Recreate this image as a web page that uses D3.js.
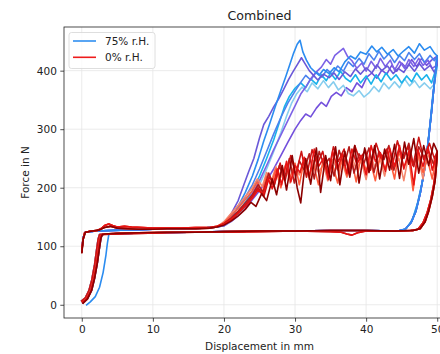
<!DOCTYPE html>
<html>
<head>
<meta charset="utf-8">
<script src="https://cdn.jsdelivr.net/npm/d3@7"></script>
<style>
  body { margin: 0; background: #fff; }
  text { font-family: "DejaVu Sans", sans-serif; fill: #222; }
</style>
</head>
<body>
<svg id="chart" width="440" height="354"></svg>
<script>
// axis ticks and legend labels
const xTicks = [0, 10, 20, 30, 40, 50];
const yTicks = [0, 100, 200, 300, 400];
const groupLabels = ["75% r.H.", "0% r.H."];

// shared segments of the loops [displacement mm, force N]
const rampRedA = [[0,4],[0.6,9],[1.2,22],[1.6,40],[2,65],[2.3,92],[2.5,110],[2.7,119],[3.2,121]];
const rampRedB = [[0.1,2],[0.8,10],[1.4,25],[1.8,45],[2.2,72],[2.5,98],[2.7,114],[2.9,120],[3.3,121]];
const rampRedC = [[-0.1,6],[0.5,12],[1,24],[1.4,42],[1.8,68],[2.1,95],[2.3,112],[2.5,120],[3,121]];
const rampBlueLate = [[0.6,-1],[1.2,5],[1.9,14],[2.5,30],[3,55],[3.4,85],[3.6,105],[3.8,120],[4.2,121]];

const leftRedA = [[0,90],[0.15,110],[0.4,123],[1.2,126],[2.2,127],[2.8,131],[3.3,136],[3.8,138],[4.4,135],[5,133],[6,134],[7,133],[8.5,132],[10,131],[12,131],[14,131],[16,132],[18,132],[19,134]];
const leftRedB = [[0,88],[0.2,112],[0.5,124],[1.5,126],[2.5,128],[3.2,132],[4,134],[5,131],[6.5,130],[8,129],[10,129],[12,130],[14,130],[16,130],[18,131],[19,133]];
const leftBlue = [[0,92],[0.2,115],[0.5,124],[2,126],[4,127],[7,128],[10,129],[14,130],[17,131],[19,133]];

const lowerRed = [[3.2,121],[5,122],[8,123],[12,124],[16,124],[20,125],[25,126],[30,126],[35,127],[40,127],[44,126],[46.3,127]];
const lowerRedDip = [[3,120],[5,121],[8,122],[12,123],[16,124],[20,124],[25,125],[30,126],[35,125],[36.5,124],[37.3,121],[38,119],[38.8,123],[40,126],[44,126],[46.6,127]];
const lowerBlue = [[3.8,121],[6,122],[10,123],[15,124],[20,125],[25,126],[30,126],[35,127],[40,127],[44.5,126]];

const endRedA = [[46.3,127],[47.3,129],[48,140],[48.6,158],[49.1,180],[49.5,205],[49.8,232],[50,258]];
const endRedB = [[46.6,127],[47.6,130],[48.3,142],[48.8,160],[49.3,185],[49.7,212],[49.9,240],[50,262]];
const endBlueA = [[44.5,126],[45.5,129],[46.3,140],[47,160],[47.6,190],[48.2,230],[48.7,275],[49.2,330],[49.6,380],[49.9,415],[50,425]];
const endBlueB = [[44.5,126],[45.6,130],[46.5,145],[47.2,172],[47.9,210],[48.5,255],[49,310],[49.4,360],[49.8,395],[50,410]];

// upper (sliding) segments, 75% r.H.
const upB1 = [[20,137],[21,148],[22,168],[23,192],[24,220],[24.8,248],[25.6,280],[26.4,308],[27.2,338],[28,366],[28.7,390],[29.3,412],[29.8,430],[30.3,445],[30.7,452],[31.1,432],[31.6,418],[32.2,405],[32.8,398],[33.4,392],[34,402],[34.8,395],[35.5,405],[36.2,398],[37,415],[37.8,425],[38.5,420],[39.2,432],[40,428],[40.8,442],[41.5,432],[42.2,440],[43,428],[43.8,436],[44.5,425],[45.3,434],[46,441],[46.8,430],[47.5,446],[48.2,435],[49,441],[49.6,430],[50,425]];
const upB2 = [[20,139],[21,155],[22,178],[22.8,205],[23.5,228],[24.2,250],[25,285],[25.6,308],[26.3,322],[27,338],[27.7,352],[28.4,368],[29.1,385],[29.7,398],[30.3,410],[30.9,422],[31.4,412],[32,400],[32.6,392],[33.2,384],[34,394],[34.8,388],[35.5,396],[36.2,385],[37,398],[37.8,390],[38.5,403],[39.2,394],[40,405],[40.8,396],[41.5,410],[42.2,400],[43,408],[43.8,395],[44.5,404],[45.3,397],[46,411],[46.8,399],[47.5,412],[48.2,401],[49,409],[49.6,397],[50,410]];
const upB3 = [[20,135],[21,144],[22,157],[23,172],[24,190],[25,212],[26,238],[27,265],[28,290],[29,315],[30,340],[30.8,360],[31.5,372],[32.2,386],[33,398],[33.7,406],[34.4,419],[35,411],[35.6,426],[36.2,432],[36.8,438],[37.4,424],[38,417],[38.7,404],[39.4,413],[40,399],[40.7,416],[41.4,404],[42,421],[42.7,407],[43.4,418],[44,401],[44.7,416],[45.4,404],[46,419],[46.7,407],[47.4,421],[48,409],[48.7,418],[49.3,404],[50,410]];
const upB4 = [[20,137],[21,150],[22,166],[23,184],[24,205],[25,232],[26,262],[27,292],[28,320],[29,345],[30,365],[30.8,380],[31.5,392],[32.2,384],[33,398],[33.8,389],[34.5,402],[35.2,394],[36,408],[36.8,399],[37.5,415],[38.2,407],[39,421],[39.7,411],[40.4,429],[41.1,418],[41.8,433],[42.5,420],[43.2,429],[44,414],[44.7,426],[45.4,417],[46,431],[46.8,419],[47.5,429],[48.2,414],[49,426],[49.6,417],[50,425]];
const upB5 = [[20,136],[21,146],[22,159],[23,175],[24,195],[25,220],[26,250],[27,282],[27.8,312],[28.5,338],[29.2,356],[30,370],[30.8,379],[31.5,371],[32.2,386],[33,377],[33.7,393],[34.4,383],[35,396],[35.7,385],[36.4,399],[37.1,387],[37.8,381],[38.5,393],[39.2,379],[40,391],[40.7,377],[41.4,393],[42.1,381],[42.8,396],[43.5,384],[44.2,393],[45,379],[45.7,391],[46.4,381],[47.1,396],[47.8,384],[48.5,393],[49.2,379],[50,410]];
const upB6 = [[20,135],[21,143],[22,154],[23,168],[24,185],[25,205],[26,232],[27,262],[28,294],[28.8,322],[29.5,344],[30.2,360],[31,372],[31.7,364],[32.4,379],[33.2,369],[34,383],[34.7,371],[35.4,381],[36.1,367],[36.8,375],[37.5,361],[38.2,357],[39,366],[39.7,355],[40.4,362],[41.1,373],[41.8,364],[42.5,379],[43.2,369],[44,381],[44.7,371],[45.4,386],[46.1,374],[46.8,383],[47.5,371],[48.2,379],[49,369],[49.6,377],[50,410]];
const upB7 = [[20,135],[21,142],[22,152],[23,165],[24,180],[25,195],[26,212],[27,232],[28,255],[29,278],[30,300],[30.8,315],[31.5,326],[32.2,321],[33,336],[33.7,346],[34.4,339],[35.1,356],[35.8,363],[36.5,357],[37.2,371],[38,364],[38.7,379],[39.4,371],[40.1,389],[40.8,396],[41.5,387],[42.2,401],[42.9,394],[43.6,409],[44.3,399],[45,413],[45.7,404],[46.4,419],[47.1,407],[47.8,421],[48.5,409],[49.2,418],[50,425]];

// upper (sliding) segments, 0% r.H.
const upR1 = [[20,138],[21,145],[22,156],[23,168],[24,182],[24.8,196],[25.5,188],[26.2,215],[26.8,198],[27.5,232],[28.1,205],[28.8,245],[29.4,210],[30,238],[30.7,226],[31.3,252],[32,218],[32.7,266],[33.3,236],[34,250],[34.7,214],[35.3,262],[36,232],[36.7,258],[37.3,224],[38,266],[38.7,240],[39.3,255],[40,222],[40.7,272],[41.3,245],[42,260],[42.7,228],[43.3,268],[44,236],[44.7,272],[45.3,232],[46,262],[46.7,205],[47.3,265],[48,236],[48.7,270],[49.3,230],[50,258]];
const upR2 = [[20,136],[21,143],[22,152],[23,163],[23.8,175],[24.5,168],[25.3,190],[26,178],[26.8,215],[27.4,188],[28.2,238],[28.8,196],[29.6,255],[30.3,200],[30.8,174],[31.5,250],[32.2,206],[33,268],[33.6,192],[34.3,255],[35,212],[35.7,270],[36.3,205],[37,262],[37.7,218],[38.4,272],[39,208],[39.8,268],[40.4,226],[41.2,272],[41.9,215],[42.6,266],[43.3,230],[44,274],[44.7,216],[45.4,278],[46,240],[46.7,284],[47.4,225],[48.1,272],[48.8,238],[49.5,276],[50,262]];
const upR3 = [[20,139],[21,148],[22,160],[23,174],[24,188],[24.8,205],[25.5,192],[26.3,225],[27,202],[27.8,238],[28.5,214],[29.2,250],[29.9,208],[30.6,246],[31.3,230],[32,258],[32.7,215],[33.4,262],[34.1,238],[34.8,250],[35.5,220],[36.2,264],[36.9,238],[37.6,270],[38.3,225],[39,258],[39.7,242],[40.4,268],[41.1,226],[41.8,262],[42.5,248],[43.2,272],[43.9,230],[44.6,265],[45.3,250],[46,276],[46.7,236],[47.4,270],[48.1,252],[48.8,262],[49.5,240],[50,258]];
const upR4 = [[20,140],[21,152],[22,165],[23,180],[24,195],[24.7,210],[25.4,192],[26,220],[26.7,206],[27.3,232],[28,200],[28.7,238],[29.3,218],[30,242],[30.6,205],[31.3,248],[32,222],[32.6,240],[33.3,205],[34,250],[34.6,228],[35.3,238],[36,208],[36.6,252],[37.3,220],[38,246],[38.6,210],[39.3,255],[40,230],[40.6,245],[41.3,212],[42,258],[42.6,232],[43.3,250],[44,215],[44.6,262],[45.3,236],[46,252],[46.6,195],[47.3,258],[48,226],[48.6,250],[49.3,215],[50,262]];
const upR5 = [[20,142],[21,156],[22,170],[23,185],[24,200],[24.7,215],[25.4,202],[26,226],[26.7,212],[27.3,236],[28,218],[28.7,240],[29.3,208],[30,236],[30.6,222],[31.3,244],[32,214],[32.6,246],[33.3,226],[34,240],[34.6,212],[35.3,248],[36,230],[36.6,244],[37.3,218],[38,252],[38.6,232],[39.3,246],[40,214],[40.6,254],[41.3,234],[42,248],[42.6,220],[43.3,256],[44,236],[44.6,250],[45.3,212],[46,258],[46.6,238],[47.3,254],[48,215],[48.6,258],[49.3,242],[50,258]];
const upR6 = [[20,138],[21,147],[22,158],[23,170],[24,185],[24.8,200],[25.6,185],[26.4,220],[27.1,205],[27.9,242],[28.6,212],[29.4,255],[30.1,222],[30.9,262],[31.6,218],[32.4,265],[33.1,240],[33.9,262],[34.6,222],[35.4,270],[36.1,245],[36.9,266],[37.6,226],[38.4,272],[39.1,248],[39.9,264],[40.6,230],[41.4,276],[42.1,250],[42.9,266],[43.6,232],[44.4,280],[45.1,252],[45.9,270],[46.6,238],[47.4,286],[48.1,248],[48.9,276],[49.6,250],[50,262]];

// which segments make each loop (left upper return, sliding, end rise, lower, ramp)
const humidSeries = [
  [leftBlue, upB7, endBlueA, lowerBlue, rampRedA],
  [leftBlue, upB6, endBlueB, lowerBlue, rampRedB],
  [leftBlue, upB5, endBlueB, lowerBlue, rampRedC],
  [leftBlue, upB4, endBlueA, lowerBlue, rampRedA],
  [leftBlue, upB3, endBlueA, lowerBlue, rampRedB],
  [leftBlue, upB2, endBlueA, lowerBlue, rampRedC],
  [leftBlue, upB1, endBlueA, lowerBlue, rampBlueLate]
];
const drySeries = [
  [leftRedB, upR5, endRedA, lowerRed, rampRedC],
  [leftRedA, upR4, endRedB, lowerRed, rampRedA],
  [leftRedB, upR3, endRedA, lowerRedDip, rampRedB],
  [leftRedA, upR6, endRedB, lowerRed, rampRedC],
  [leftRedA, upR1, endRedA, lowerRedDip, rampRedA],
  [leftRedB, upR2, endRedB, lowerRed, rampRedB]
];

const humidColors = ["#7350dc", "#86cdee", "#18b2ea", "#4a82ee", "#7c62e6", "#6a58d8", "#2b8cf0"];
const dryColors = ["#f5866c", "#ff5c3c", "#b41c1c", "#cc1414", "#e81414", "#8b0000"];
const legendColors = ["#2f8ff0", "#ee1c1c"];

const svg = d3.select("#chart");
const margin = {left: 64, top: 27, right: 455, bottom: 318};

const x = d3.scaleLinear().domain([-2.5, 52.5]).range([margin.left, margin.right]);
const y = d3.scaleLinear().domain([-22.6, 474.6]).range([margin.bottom, margin.top]);

svg.append("rect").attr("width", 440).attr("height", 354).attr("fill", "#fff");

// grid
svg.append("g").selectAll("line").data(xTicks).join("line")
  .attr("x1", d => x(d)).attr("x2", d => x(d))
  .attr("y1", margin.top).attr("y2", margin.bottom)
  .attr("stroke", "#e6e6e6").attr("stroke-width", 0.8);
svg.append("g").selectAll("line").data(yTicks).join("line")
  .attr("x1", margin.left).attr("x2", margin.right)
  .attr("y1", d => y(d)).attr("y2", d => y(d))
  .attr("stroke", "#e6e6e6").attr("stroke-width", 0.8);

svg.append("clipPath").attr("id", "clip").append("rect")
  .attr("x", margin.left).attr("y", margin.top)
  .attr("width", margin.right - margin.left).attr("height", margin.bottom - margin.top);

const line = d3.line().x(d => x(d[0])).y(d => y(d[1]));

// build one loop from its pieces
function loop(parts) {
  const [left, upper, end, lower, ramp] = parts;
  return left.concat(upper, end.slice().reverse(), lower.slice().reverse(), ramp.slice().reverse());
}

const plot = svg.append("g").attr("clip-path", "url(#clip)");
plot.selectAll(".humid").data(humidSeries).join("path")
  .attr("class", "humid")
  .attr("d", d => line(loop(d)))
  .attr("fill", "none")
  .attr("stroke", (d, i) => humidColors[i])
  .attr("stroke-width", 1.6)
  .attr("stroke-linejoin", "round");
plot.selectAll(".dry").data(drySeries).join("path")
  .attr("class", "dry")
  .attr("d", d => line(loop(d)))
  .attr("fill", "none")
  .attr("stroke", (d, i) => dryColors[i])
  .attr("stroke-width", 1.6)
  .attr("stroke-linejoin", "round");

// axes
const xAxis = svg.append("g").attr("transform", `translate(0,${margin.bottom})`)
  .call(d3.axisBottom(x).tickValues(xTicks).tickSize(3.7).tickPadding(3.5));
const yAxis = svg.append("g").attr("transform", `translate(${margin.left},0)`)
  .call(d3.axisLeft(y).tickValues(yTicks).tickSize(3.7).tickPadding(3.5));
[xAxis, yAxis].forEach(a => {
  a.select(".domain").remove();
  a.selectAll("line").attr("stroke", "#222").attr("stroke-width", 0.8);
  a.selectAll("text").attr("font-size", "10.5px").attr("fill", "#222")
    .style("font-family", "'DejaVu Sans', sans-serif");
});

// spines
svg.append("rect")
  .attr("x", margin.left).attr("y", margin.top)
  .attr("width", margin.right - margin.left).attr("height", margin.bottom - margin.top)
  .attr("fill", "none").attr("stroke", "#222").attr("stroke-width", 0.8);

// labels
svg.append("text").attr("x", 259.5).attr("y", 20).attr("text-anchor", "middle")
  .attr("font-size", "12.6px").text("Combined");
svg.append("text").attr("x", 259.5).attr("y", 349.5).attr("text-anchor", "middle")
  .attr("font-size", "10.5px").text("Displacement in mm");
svg.append("text").attr("transform", "translate(29,172.5) rotate(-90)").attr("text-anchor", "middle")
  .attr("font-size", "10.5px").text("Force in N");

// legend
const legend = svg.append("g");
legend.append("rect").attr("x", 69).attr("y", 32.5).attr("width", 86).attr("height", 36)
  .attr("rx", 2.5).attr("fill", "#fff").attr("fill-opacity", 0.8)
  .attr("stroke", "#d6d6d6").attr("stroke-width", 0.8);
groupLabels.forEach((label, i) => {
  const ly = 41 + i * 16.3;
  legend.append("line").attr("x1", 73).attr("x2", 96).attr("y1", ly).attr("y2", ly)
    .attr("stroke", legendColors[i]).attr("stroke-width", 1.6);
  legend.append("text").attr("x", 105).attr("y", ly).attr("dy", "0.35em")
    .attr("font-size", "10.5px").text(label);
});
</script>
</body>
</html>
